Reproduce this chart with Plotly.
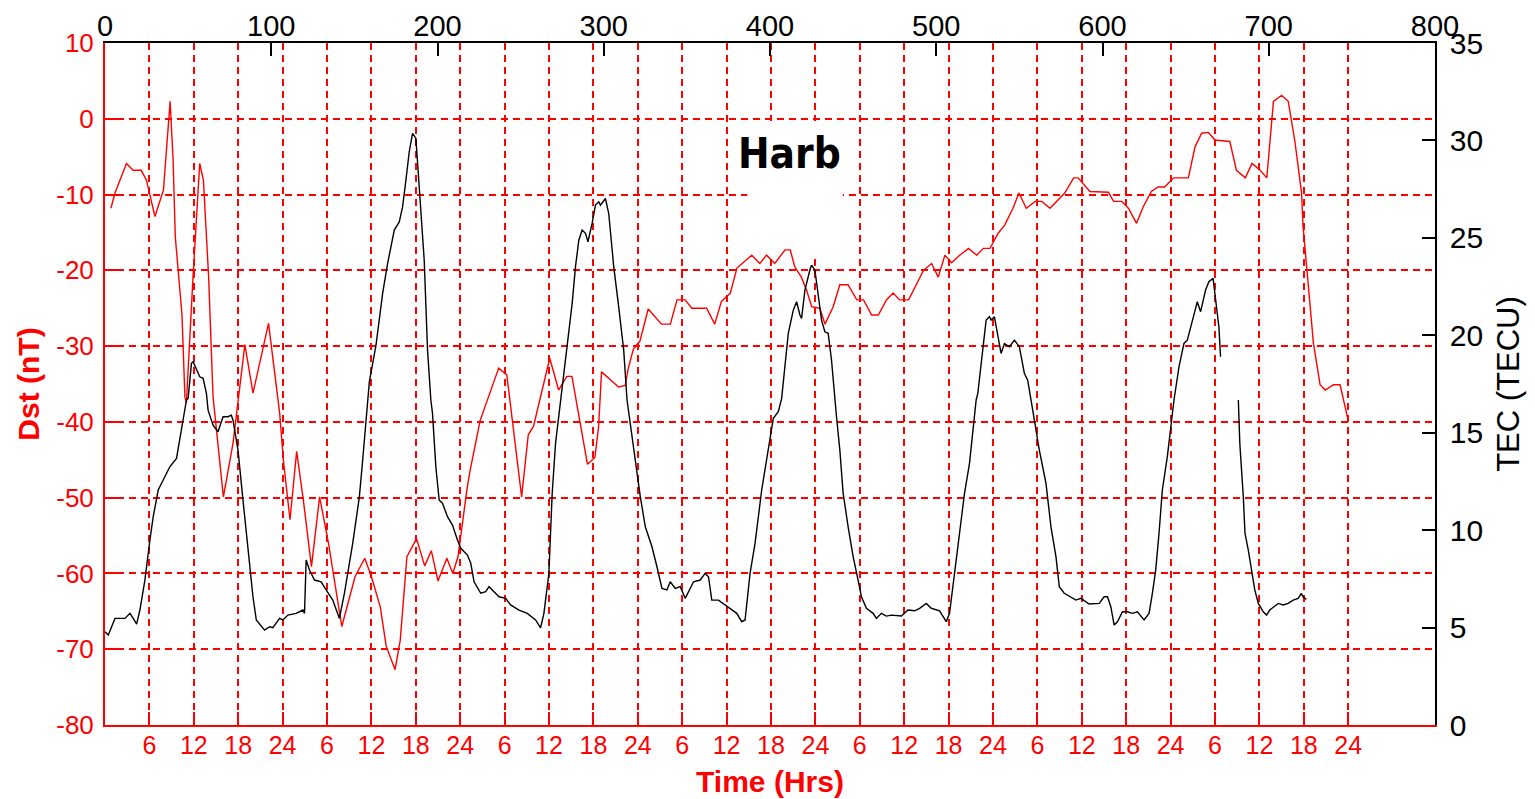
import plotly.graph_objects as go

# ---------------- data ----------------
# Dst (nT) against time in hours (bottom axis)
dst_hours = [0.8, 1.35, 2.9, 3.8, 4.9, 5.6, 6.75, 7.9, 8.8, 9.2, 9.5, 10.4, 10.8, 11.0, 11.9, 12.8, 13.3, 14.0, 14.6,
             16.0, 17.3, 18.9, 20.0, 22.1, 23.6, 24.1, 25.0, 25.9, 26.8, 27.9, 29.0, 30.2, 32.0, 33.8, 35.1, 36.0,
             37.2, 38.0, 39.2, 39.9, 40.8, 42.1, 43.2, 44.1, 45.0, 46.2, 47.0, 47.7, 48.9, 49.3, 50.7, 51.6, 53.2,
             54.3, 56.3, 57.2, 57.9, 60.1, 61.3, 62.4, 63.1, 65.2, 66.2, 66.7, 67.1, 69.4, 70.3, 70.7, 71.4, 72.3,
             73.4, 75.2, 76.4, 77.3, 78.4, 79.3, 81.3, 82.4, 83.3, 84.5, 85.4, 87.4, 88.5, 89.4, 90.5, 91.9, 92.6,
             93.2, 94.1, 94.8, 95.5, 96.6, 97.3, 98.4, 99.3, 100.4, 101.6, 102.5, 103.6, 104.5, 105.6, 106.5, 107.4,
             108.6, 110.6, 111.7, 112.6, 113.5, 114.4, 115.5, 116.7, 117.8, 118.7, 119.6, 120.7, 121.6, 122.7,
             123.5, 124.5, 125.7, 126.6, 127.7, 128.6, 129.7, 130.9, 131.5, 133.1, 135.6, 136.3, 137.4, 138.3,
             139.4, 140.3, 141.4, 142.3, 143.2, 144.4, 146.4, 147.3, 148.2, 149.1, 150.0, 152.0, 152.9, 154.1,
             155.0, 156.1, 157.0, 157.9, 159.0, 159.9, 160.8, 161.7, 161.9, 162.4, 163.3, 164.2, 164.9, 166.0,
             166.9, 168.0]
dst_values = [-11.8, -9.8, -5.9, -6.8, -6.8, -8.1, -12.9, -9.4, 2.3, -5.4, -15.6, -25.8, -36.7, -37.5, -20.8, -5.9,
              -8.1, -20.8, -36.7, -49.9, -42.8, -29.8, -36.2, -27.0, -38.8, -45.0, -52.9, -43.9, -50.3, -59.1,
              -49.9, -56.0, -67.0, -60.4, -58.0, -60.4, -64.4, -69.6, -72.7, -68.8, -57.8, -55.4, -59.0, -57.0,
              -61.0, -58.0, -60.0, -57.8, -49.0, -46.6, -39.8, -37.4, -32.9, -33.8, -49.9, -41.7, -40.6, -31.6,
              -35.8, -34.0, -34.0, -45.6, -44.7, -40.7, -33.4, -35.4, -35.2, -33.0, -30.4, -29.3, -25.1, -27.1,
              -27.1, -23.9, -23.9, -25.0, -25.0, -27.1, -24.1, -23.0, -19.7, -18.0, -19.1, -18.0, -19.1, -17.3,
              -17.3, -19.5, -20.9, -22.6, -24.8, -25.0, -27.1, -24.8, -21.9, -21.9, -23.9, -23.9, -25.9, -25.9,
              -23.9, -23.0, -23.9, -23.9, -20.0, -19.1, -20.9, -18.0, -19.0, -18.0, -17.1, -18.0, -17.1, -17.1,
              -15.1, -14.0, -11.8, -9.8, -11.8, -10.9, -10.9, -11.8, -10.9, -9.8, -7.8, -7.8, -9.6, -9.7, -10.9,
              -10.9, -11.8, -13.8, -11.6, -9.6, -9.0, -9.0, -7.8, -7.8, -3.7, -1.9, -1.8, -2.8, -3.0, -6.8, -7.8,
              -5.9, -6.8, -7.8, 2.3, 3.1, 2.3, -3.0, -9.8, -14.2, -19.7, -29.6, -35.1, -35.8, -35.1, -35.1, -39.8]

# TEC (TECU) against sample index (top axis, 0-800); None marks the data gap
tec_index = [0, 2, 4, 6, 12, 15, 17, 19, 21, 24, 27, 29, 32, 35, 39, 43, 45, 47, 49, 50, 52, 53, 55, 57, 59, 61, 62,
             65, 68, 71, 74, 76, 77, 80, 83, 86, 89, 91, 96, 99, 101, 105, 107, 110, 115, 119, 120, 121, 123, 126,
             130, 133, 137, 141, 144, 149, 153, 155, 158, 159, 163, 167, 170, 174, 177, 179, 181, 183, 185, 187,
             189, 191, 192, 194, 196, 197, 199, 201, 203, 206, 209, 212, 214, 218, 220, 222, 226, 229, 231, 234,
             237, 241, 244, 249, 254, 259, 262, 264, 267, 268, 269, 271, 274, 275, 278, 281, 283, 285, 287, 289,
             290.5, 293, 295, 297, 298, 301, 303, 306, 309, 312, 314, 319, 322, 325, 329, 332, 335, 338, 340, 343,
             346, 349, 351, 354, 358, 361, 363, 365, 369, 373, 377, 380, 383, 385, 388, 391, 395, 399, 402, 405,
             407, 411, 414, 416, 418, 419, 421, 424, 425, 427, 429, 431, 433, 435, 437, 439, 440, 442, 444, 447,
             450, 453, 455, 458, 462, 464, 467, 470, 473, 479, 483, 487, 490, 494, 497, 502, 506, 508, 511, 514,
             517, 520, 522, 524, 525, 528, 530, 532, 533, 535, 537, 539, 541, 544, 547, 550, 553, 555, 557, 559,
             562, 566, 569, 572, 574, 577, 581, 584, 587, 592, 598, 601, 603, 605, 607, 609, 612, 615, 618, 621,
             625, 628, 630, 632, 634, 636, 639, 641, 643, 646, 649, 651, 653, 656, 657, 659, 662, 664, 666.5, 668,
             669, 670, 671, 676, 681.7, 682.6, 684.7, 685.7, 687.7, 689.7, 691.6, 693.7, 696.7, 698.7, 700.6,
             705.7, 708.7, 711.7, 714.7, 717.7, 719.6, 720.6, 722.6]
tec_values = [4.79, 4.62, 5.04, 5.47, 5.47, 5.73, 5.47, 5.18, 5.9, 7.44, 9.49, 10.69, 12.06, 12.57, 13.25, 13.68,
              14.62, 15.65, 16.68, 16.76, 18.56, 18.64, 18.21, 17.87, 17.79, 17.02, 16.16, 15.39, 15.05, 15.82,
              15.82, 15.9, 15.65, 14.11, 11.54, 8.98, 6.58, 5.39, 4.87, 5.04, 4.99, 5.47, 5.39, 5.64, 5.73, 5.9,
              5.73, 8.47, 7.95, 7.44, 7.35, 6.93, 6.41, 5.47, 6.76, 9.32, 11.71, 13.6, 16.68, 17.61, 19.5, 22.15,
              23.69, 25.4, 25.82, 26.59, 27.96, 29.42, 30.36, 30.1, 27.62, 25.4, 23.86, 19.24, 16.68, 15.99, 13.25,
              11.54, 11.38, 10.69, 10.26, 9.49, 9.07, 8.72, 8.3, 7.35, 6.76, 6.84, 7.1, 6.84, 6.58, 6.5, 6.16, 5.9,
              5.73, 5.39, 4.99, 5.73, 7.78, 9.84, 11.89, 14.45, 16.68, 17.19, 19.58, 21.64, 23.52, 24.88, 25.4,
              25.23, 24.8, 25.74, 26.68, 26.85, 26.68, 27.02, 26.25, 23.52, 21.46, 19.24, 16.68, 13.6, 11.71,
              10.17, 9.15, 8.12, 7.01, 6.93, 7.35, 7.01, 7.1, 6.5, 6.84, 7.35, 7.44, 7.78, 7.61, 6.41, 6.41, 6.16,
              5.9, 5.73, 5.3, 5.39, 7.78, 9.32, 12.06, 14.11, 15.74, 16.08, 16.76, 20.1, 21.29, 21.72, 21.04,
              20.87, 22.32, 23.35, 23.6, 23.35, 22.15, 20.78, 20.18, 20.1, 18.73, 16.68, 15.82, 14.11, 11.89,
              10.17, 8.64, 7.44, 6.58, 5.99, 5.73, 5.47, 5.73, 5.59, 5.64, 5.59, 5.9, 5.86, 5.99, 6.24, 5.99, 5.86,
              5.3, 5.73, 7.78, 9.84, 11.89, 13.43, 14.96, 16.68, 17.02, 19.41, 20.78, 20.95, 20.78, 20.95, 19.92,
              19.07, 19.58, 19.41, 19.75, 19.41, 18.05, 17.7, 16.68, 15.65, 14.11, 12.4, 10.17, 8.64, 7.1, 6.76,
              6.58, 6.41, 6.5, 6.21, 6.24, 6.58, 6.58, 6.07, 5.13, 5.3, 5.81, 5.81, 5.73, 5.81, 5.39, 5.73, 6.76,
              7.95, 9.84, 12.06, 13.77, 15.31, 16.68, 18.38, 19.58, 19.75, 20.35, 21.38, 21.72, 21.21, 22.32,
              22.75, 22.92, 21.98, 21.29, 20.44, 18.9, None, 16.68, 14.45, 11.71, 9.84, 8.98, 7.95, 6.93, 6.24,
              5.81, 5.64, 5.9, 6.24, 6.16, 6.24, 6.41, 6.5, 6.76, 6.58, 6.45]

# axis ticks
hour_tickvals = list(range(6, 169, 6))
hour_ticktext = ["6", "12", "18", "24"] * 7
top_tickvals = list(range(0, 801, 100))
dst_tickvals = list(range(-80, 11, 10))
dst_ticktext = [str(v) for v in dst_tickvals]
tec_tickvals = list(range(0, 36, 5))

RED = "#ff0000"
FONT = "Liberation Sans, Arial, sans-serif"

fig = go.Figure()
fig.add_trace(go.Scatter(x=dst_hours, y=dst_values, mode="lines",
                         line=dict(color=RED, width=1.4), xaxis="x", yaxis="y",
                         showlegend=False, hoverinfo="skip"))
fig.add_trace(go.Scatter(x=tec_index, y=tec_values, mode="lines",
                         line=dict(color="black", width=1.4), xaxis="x2", yaxis="y2",
                         connectgaps=False, showlegend=False, hoverinfo="skip"))

fig.update_layout(
    width=1519, height=799,
    margin=dict(l=97, r=92, t=35, b=82, autoexpand=False),
    paper_bgcolor="white", plot_bgcolor="white",
    font=dict(family=FONT),
    xaxis=dict(
        range=[0, 179.73], tickmode="array", tickvals=hour_tickvals, ticktext=hour_ticktext,
        ticks="inside", ticklen=13, tickcolor=RED, tickwidth=1.5,
        tickfont=dict(color=RED, size=25, family=FONT), ticklabelstandoff=-3,
        showline=True, linecolor=RED, linewidth=2, mirror=False,
        showgrid=True, gridcolor=RED, gridwidth=1.5, griddash="7px,5px",
        zeroline=False, automargin=False,
        title=dict(text="<b>Time (Hrs)</b>", font=dict(color=RED, size=30, family=FONT), standoff=13),
    ),
    xaxis2=dict(
        range=[0, 800], overlaying="x", side="top", anchor="y2",
        tickmode="array", tickvals=top_tickvals,
        ticks="inside", ticklen=13, tickcolor="black", tickwidth=1.5,
        tickfont=dict(color="black", size=29, family=FONT), ticklabelstandoff=-6,
        showline=True, linecolor="black", linewidth=1.5,
        showgrid=False, zeroline=False, automargin=False,
    ),
    yaxis=dict(
        range=[-80, 10], tickmode="array", tickvals=dst_tickvals, ticktext=dst_ticktext,
        ticks="inside", ticklen=13, tickcolor=RED, tickwidth=1.5,
        tickfont=dict(color=RED, size=26, family=FONT), ticklabelstandoff=4,
        showline=True, linecolor=RED, linewidth=2,
        showgrid=True, gridcolor=RED, gridwidth=1.5, griddash="7px,5px",
        zeroline=False, automargin=False,
        title=dict(text="<b>Dst (nT)</b>", font=dict(color=RED, size=30, family=FONT), standoff=8),
    ),
    yaxis2=dict(
        range=[0, 35], overlaying="y", side="right", anchor="x2",
        tickmode="array", tickvals=tec_tickvals,
        ticks="inside", ticklen=13, tickcolor="black", tickwidth=1.5,
        tickfont=dict(color="black", size=30, family=FONT), ticklabelstandoff=7,
        showline=True, linecolor="black", linewidth=1.5,
        showgrid=False, zeroline=False, automargin=False,
        title=dict(text="TEC (TECU)", font=dict(color="black", size=31, family=FONT), standoff=15),
    ),
)

# white label box hiding the grid behind the station name
fig.add_shape(type="rect", xref="x", yref="y", x0=86.8, x1=99.7, y0=-18.0, y1=-0.3,
              fillcolor="white", line=dict(width=0), layer="between")
fig.add_annotation(text="<b>Harb</b>", xref="x", yref="y", x=92.5, y=-4.6,
                   showarrow=False,
                   font=dict(family="Liberation Sans Narrow, DejaVu Sans Condensed, sans-serif",
                             size=42, color="black"))

fig.write_html("out.html")
